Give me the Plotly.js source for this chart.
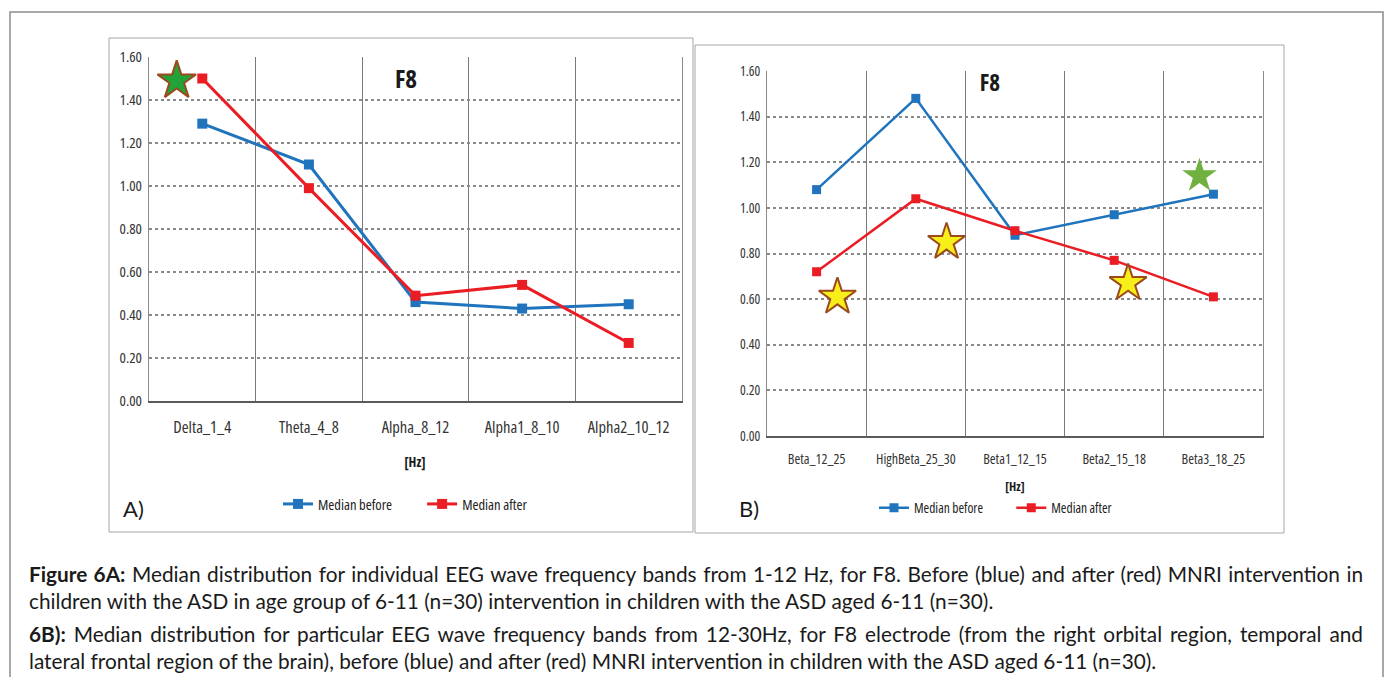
<!DOCTYPE html>
<html><head><meta charset="utf-8">
<script src="https://cdn.plot.ly/plotly-3.0.1.min.js"></script>
<style>
html,body{margin:0;padding:0;background:#fff;}
#wrap{position:relative;width:1389px;height:677px;overflow:hidden;background:#fff;}
#chart{position:absolute;left:0;top:0;width:1389px;height:677px;}
#chart text{font-stretch:75%;}
#caption{position:absolute;left:29px;top:560px;width:1334px;font-family:Lato,'Noto Sans',sans-serif;font-size:20.8px;color:#1a1a1a;}
#caption .l{line-height:27px;text-align:justify;text-align-last:justify;white-space:nowrap;}
#caption .last{text-align-last:left;}
#caption .gap{height:6px;}
</style></head>
<body>
<div id="wrap">
<div id="chart"></div>
<div id="caption">
<div class="l"><b>Figure 6A:</b> Median distribution for individual EEG wave frequency bands from 1-12 Hz, for F8. Before (blue) and after (red) MNRI intervention in</div>
<div class="l last">children with the ASD in age group of 6-11 (n=30) intervention in children with the ASD aged 6-11 (n=30).</div>
<div class="gap"></div>
<div class="l"><b>6B):</b> Median distribution for particular EEG wave frequency bands from 12-30Hz, for F8 electrode (from the right orbital region, temporal and</div>
<div class="l last">lateral frontal region of the brain), before (blue) and after (red) MNRI intervention in children with the ASD aged 6-11 (n=30).</div>
</div>
</div>
<script>
// ---- data ----
const bandsA = ['Delta_1_4','Theta_4_8','Alpha_8_12','Alpha1_8_10','Alpha2_10_12'];
const beforeA = [1.29, 1.10, 0.46, 0.43, 0.45];
const afterA  = [1.50, 0.99, 0.49, 0.54, 0.27];

const bandsB = ['Beta_12_25','HighBeta_25_30','Beta1_12_15','Beta2_15_18','Beta3_18_25'];
const beforeB = [1.08, 1.48, 0.88, 0.97, 1.06];
const afterB  = [0.72, 1.04, 0.90, 0.77, 0.61];

// star markers (category-index position, value)
const starA_x = [-0.24];
const starA_y = [1.49];
const starBy_x = [0.21, 1.31, 3.14];
const starBy_y = [0.61, 0.85, 0.67];
const starBg_x = [3.86];
const starBg_y = [1.14];

const seriesNames = ['Median before','Median after'];
const yMax = 1.6, yStep = 0.2;

// ---- layout helpers ----
const W = 1389, H = 677;
const px = x => x / W;
const py = y => 1 - y / H;

const BLUE = '#1f74bd', RED = '#ea1d25';
const NARROW = "'Open Sans',Lato,sans-serif";

function lineTrace(x, y, name, color, xa, ya, lg, lw, ms){
  return {x:x, y:y, name:name, type:'scatter', mode:'lines+markers',
    xaxis:xa, yaxis:ya, legend:lg,
    line:{color:color, width:lw}, marker:{symbol:'square', size:ms, color:color}};
}
function starTrace(x, y, xa, ya, fill, edge, ew, size){
  return {x:x, y:y, type:'scatter', mode:'markers', xaxis:xa, yaxis:ya, showlegend:false,
    marker:{symbol:'star', size:size, color:fill, line:{color:edge, width:ew}}, hoverinfo:'skip'};
}

const data = [
  lineTrace(bandsA, beforeA, seriesNames[0], BLUE, 'x', 'y', 'legend', 3, 10),
  lineTrace(bandsA, afterA,  seriesNames[1], RED,  'x', 'y', 'legend', 3, 10),
  lineTrace(bandsB, beforeB, seriesNames[0], BLUE, 'x2', 'y2', 'legend2', 2.5, 9),
  lineTrace(bandsB, afterB,  seriesNames[1], RED,  'x2', 'y2', 'legend2', 2.5, 9),
  starTrace(starA_x, starA_y, 'x3', 'y3', '#22a33a', '#9a4a1c', 2, 29),
  starTrace(starBy_x, starBy_y, 'x4', 'y4', '#f7ee1a', '#9a4a1c', 2, 28),
  starTrace(starBg_x, starBg_y, 'x4', 'y4', '#6fb03f', '#6fb03f', 0, 26)
];

function xCat(dom, standoff, fs){
  return {type:'category', domain:dom, range:[-0.5,4.5], tickson:'boundaries', tickangle:0,
    showgrid:true, gridcolor:'#7a7a7a', gridwidth:1, ticks:'', ticklabelstandoff:standoff,
    showline:true, linecolor:'#5a5a5a', linewidth:2, zeroline:false, fixedrange:true,
    tickfont:{family:NARROW, size:fs, color:'#333'}};
}
function yVal(dom, anchor, fs){
  return {domain:dom, anchor:anchor, range:[0,yMax], dtick:yStep, tick0:0, tickformat:'.2f',
    showgrid:true, gridcolor:'#8a8a8a', gridwidth:2, griddash:'dot',
    showline:true, linecolor:'#8a8a8a', linewidth:1, mirror:true, zeroline:false, ticks:'',
    ticklabelstandoff:3, fixedrange:true,
    tickfont:{family:NARROW, size:fs, color:'#333'}};
}

const domAx = [px(149), px(682)], domAy = [py(401), py(57)];
const domBx = [px(767), px(1263)], domBy = [py(436), py(71)];

const ann = (x, y, text, size, bold, fam) => ({xref:'paper', yref:'paper', x:px(x), y:py(y),
  text: bold ? '<b>'+text+'</b>' : text, showarrow:false, xanchor:'center', yanchor:'middle',
  font:{family:fam||NARROW, size:size, color:'#1a1a1a'}});

const rect = (x0,y0,x1,y1,c,w) => ({type:'rect', xref:'paper', yref:'paper',
  x0:px(x0), x1:px(x1), y0:py(y1), y1:py(y0), line:{color:c, width:w}, fillcolor:'rgba(0,0,0,0)', layer:'below'});

const layout = {
  width:W, height:H, margin:{l:0,r:0,t:0,b:0}, paper_bgcolor:'rgba(0,0,0,0)', plot_bgcolor:'#fff',
  showlegend:true,
  xaxis: Object.assign(xCat(domAx, 10, 16.5), {anchor:'y'}),
  yaxis: yVal(domAy, 'x', 15),
  xaxis2: Object.assign(xCat(domBx, 9, 14), {anchor:'y2'}),
  yaxis2: yVal(domBy, 'x2', 13.5),
  xaxis3: {overlaying:'x', range:[-0.5,4.5], visible:false, fixedrange:true},
  yaxis3: {overlaying:'y', range:[0,yMax], visible:false, fixedrange:true},
  xaxis4: {overlaying:'x2', range:[-0.5,4.5], visible:false, fixedrange:true},
  yaxis4: {overlaying:'y2', range:[0,yMax], visible:false, fixedrange:true},
  legend: {orientation:'h', x:px(416), y:py(504), xanchor:'center', yanchor:'middle',
    itemwidth:30, bgcolor:'rgba(0,0,0,0)', font:{family:NARROW, size:14.5, color:'#222'}},
  legend2: {orientation:'h', x:px(1006), y:py(508), xanchor:'center', yanchor:'middle',
    itemwidth:30, bgcolor:'rgba(0,0,0,0)', font:{family:NARROW, size:13.5, color:'#222'}},
  annotations: [
    ann(406, 78, 'F8', 25, true),
    ann(990, 82, 'F8', 23, true),
    ann(415, 462, '[Hz]', 13.5, true),
    ann(1015, 486, '[Hz]', 12.5, true),
    ann(133, 508, 'A)', 22, false, "Lato,'Liberation Sans',sans-serif"),
    ann(749, 508, 'B)', 22, false, "Lato,'Liberation Sans',sans-serif")
  ],
  shapes: [
    rect(10, 12, 1383, 700, '#8c8c8c', 1.5),
    rect(109, 38, 693, 532, '#a6a6a6', 1),
    rect(695, 45, 1284, 533, '#a6a6a6', 1)
  ]
};

Plotly.newPlot('chart', data, layout, {displayModeBar:false, staticPlot:true});
</script>
</body></html>
